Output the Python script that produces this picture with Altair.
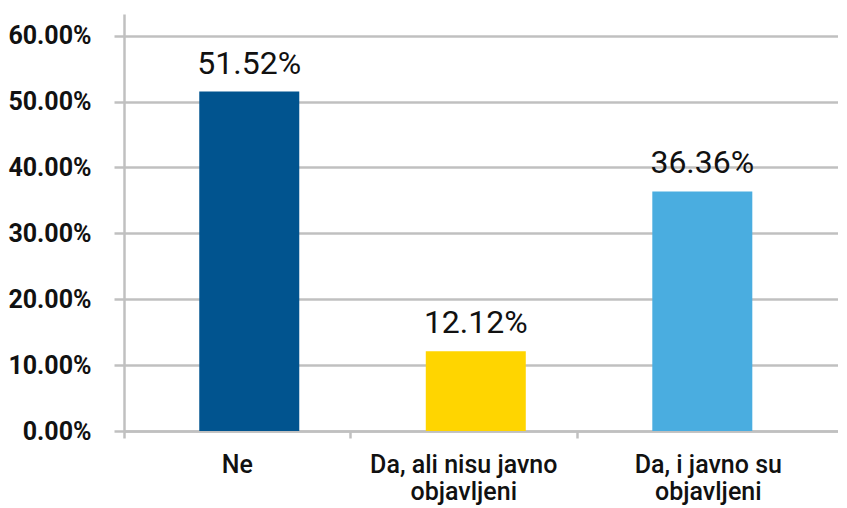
import altair as alt
import pandas as pd

categories = ["Ne", "Da, ali nisu javno objavljeni", "Da, i javno su objavljeni"]
values = [0.5152, 0.1212, 0.3636]
colors = ["#01548F", "#FFD500", "#4AADE0"]
y_ticks = [0, 0.1, 0.2, 0.3, 0.4, 0.5, 0.6]

df = pd.DataFrame({"cat": categories, "val": values, "color": colors})

GRID = "#c0c0c0"
FONT = "Roboto"

x = alt.X(
    "cat:N", sort=categories, title=None,
    scale=alt.Scale(paddingInner=0, paddingOuter=0.076, align=0),
    axis=alt.Axis(
        labelAngle=0, bandPosition=0, tickSize=7, tickColor=GRID,
        tickWidth=2.5, domainColor=GRID, domainWidth=2.5, labelPadding=14,
        labelOffset={"condition": {"test": f"datum.value == '{categories[2]}'", "value": 18},
                     "value": 0},
        labelFont=FONT, labelFontSize=25, labelFontWeight=500, labelColor="#111111",
        labelLineHeight=27, labelBaseline="top", labelLimit=400,
        labelExpr="split(replace(datum.label, ' objavljeni', '|objavljeni'), '|')",
    ),
)
y = alt.Y(
    "val:Q", title=None,
    scale=alt.Scale(domain=[0, 0.633], nice=False, zero=True),
    axis=alt.Axis(
        values=y_ticks, format=".2%", tickSize=10, tickColor=GRID, tickWidth=2.5,
        domainColor=GRID, domainWidth=2.5, gridColor=GRID, gridWidth=2.5,
        labelPadding=23, labelFont=FONT, labelFontSize=25, labelFontWeight="bold",
        labelColor="#111111",
    ),
)

base = alt.Chart(df)
bars = base.mark_bar(width=100, xOffset=12).encode(
    x=x, y=y, color=alt.Color("color:N", scale=None)
)
text = base.mark_text(
    dy=-18, baseline="alphabetic", fontSize=32, font=FONT, color="#111111", xOffset=12
).encode(x=x, y=y, text=alt.Text("val:Q", format=".2%"))

chart = (
    alt.layer(bars, text)
    .properties(
        width=714, height=417, autosize="none", background="white",
        padding={"left": 116, "top": 6, "right": 0, "bottom": 75},
    )
    .configure_view(stroke=None)
)

chart.save("out.html", embed_options={"renderer": "svg", "actions": False})
